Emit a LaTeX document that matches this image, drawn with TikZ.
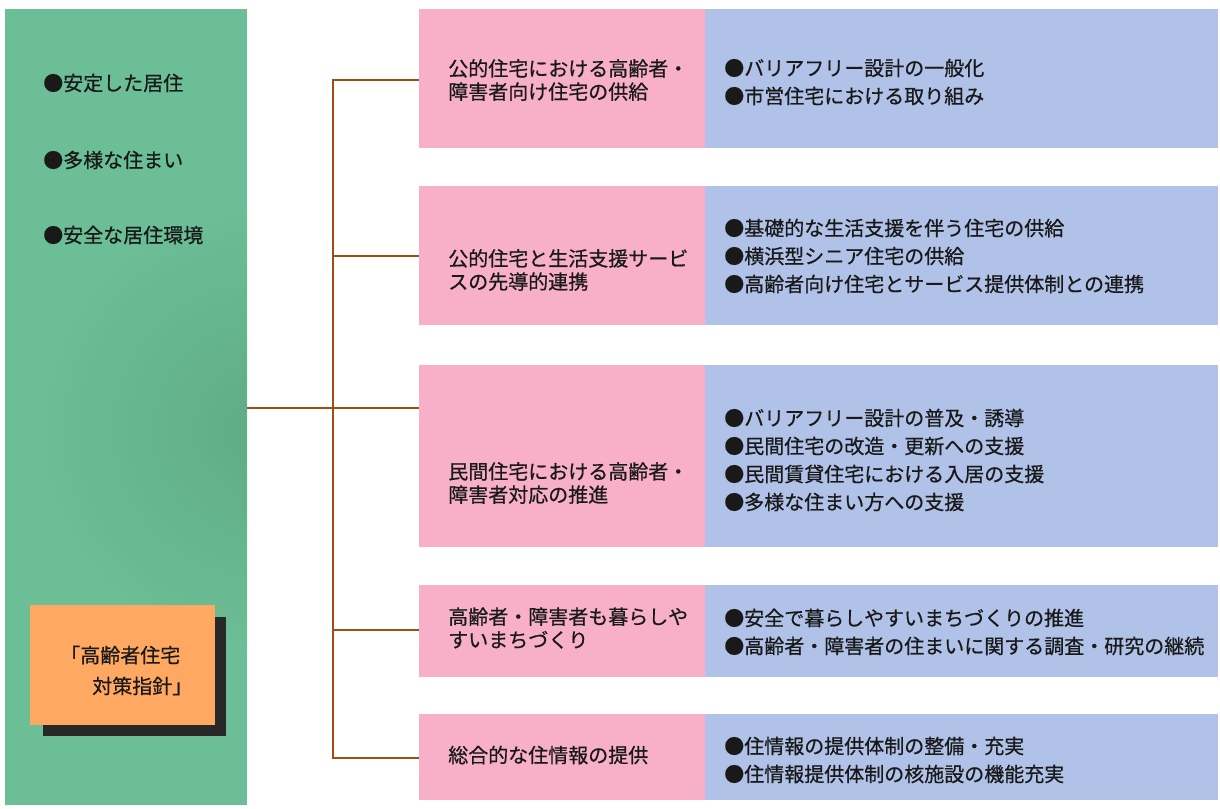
\documentclass[tikz,border=0pt]{standalone}
\usepackage{fontspec}
\setmainfont{Noto Sans CJK JP}[FakeBold=0.6, AutoFakeBold=0.6]
\usetikzlibrary{fit}
\definecolor{panelgreen}{RGB}{108,190,150}
\definecolor{paneldark}{RGB}{92,168,130}
\definecolor{boxpink}{RGB}{247,176,200}
\definecolor{boxblue}{RGB}{176,194,232}
\definecolor{boxorange}{RGB}{255,168,98}
\definecolor{shadowdark}{RGB}{40,40,40}
\definecolor{linebrown}{RGB}{165,75,20}
\definecolor{txt}{RGB}{25,25,25}
\tikzset{
  panel/.style={fill=panelgreen, inner sep=0pt, draw=none},
  pinkbox/.style={fill=boxpink, inner sep=0pt, draw=none},
  bluebox/.style={fill=boxblue, inner sep=0pt, draw=none},
  orangebox/.style={fill=boxorange, inner sep=0pt, draw=none},
  shadowbox/.style={fill=shadowdark, inner sep=0pt, draw=none},
  ptext/.style={anchor=west, align=left, inner sep=0pt, text=txt, font=\fontsize{15pt}{17.4pt}\selectfont},
  btext/.style={anchor=west, align=left, inner sep=0pt, text=txt, font=\fontsize{15pt}{21pt}\selectfont},
  ltext/.style={anchor=west, inner sep=0pt, text=txt, font=\fontsize{15pt}{18pt}\selectfont},
  conn/.style={draw=linebrown, line width=1.5pt}
}
\begin{document}
\begin{tikzpicture}[x=0.75pt, y=-0.75pt]
\useasboundingbox (0,0) rectangle (1220,808);
\fill[white] (0,0) rectangle (1220,808);
% left panel
\node[panel, fit={(5,9)(247,805)}] (green) {};
\begin{scope}
  \clip (5,9) rectangle (247,805);
  \shade[inner color=paneldark, outer color=panelgreen, opacity=0.8] (260,430) circle[radius=220];
\end{scope}
\node[ltext] (l1) at (43,83) {●安定した居住};
\node[ltext] (l2) at (43,160) {●多様な住まい};
\node[ltext] (l3) at (43,235) {●安全な居住環境};
\node[shadowbox, fit={(43,617)(226,736)}] (shadow) {};
\node[orangebox, fit={(30,605)(215,725)}] (orange) {};
\node[ltext] (o1) at (60,655) {「高齢者住宅};
\node[ltext] (o2) at (92,686) {対策指針」};
% pink boxes
\node[pinkbox, fit={(419,9)(705,148)}] (p1) {};
\node[pinkbox, fit={(419,186)(705,325)}] (p2) {};
\node[pinkbox, fit={(419,365)(705,547)}] (p3) {};
\node[pinkbox, fit={(419,585)(705,677)}] (p4) {};
\node[pinkbox, fit={(419,714)(705,800)}] (p5) {};
% blue boxes
\node[bluebox, fit={(705,9)(1218,148)}] (b1) {};
\node[bluebox, fit={(705,186)(1218,325)}] (b2) {};
\node[bluebox, fit={(705,365)(1218,547)}] (b3) {};
\node[bluebox, fit={(705,585)(1218,677)}] (b4) {};
\node[bluebox, fit={(705,714)(1218,800)}] (b5) {};
% pink texts
\node[ptext] (p1t) at (448,80) {公的住宅における高齢者・\\障害者向け住宅の供給};
\node[ptext] (p2t) at (448,270) {公的住宅と生活支援サービ\\スの先導的連携};
\node[ptext] (p3t) at (448,483) {民間住宅における高齢者・\\障害者対応の推進};
\node[ptext] (p4t) at (448,628) {高齢者・障害者も暮らしや\\すいまちづくり};
\node[ptext] (p5t) at (448,755) {総合的な住情報の提供};
% blue texts
\node[btext] (b1t) at (724,82) {●バリアフリー設計の一般化\\●市営住宅における取り組み};
\node[btext] (b2t) at (724,256) {●基礎的な生活支援を伴う住宅の供給\\●横浜型シニア住宅の供給\\●高齢者向け住宅とサービス提供体制との連携};
\node[btext] (b3t) at (724,460) {●バリアフリー設計の普及・誘導\\●民間住宅の改造・更新への支援\\●民間賃貸住宅における入居の支援\\●多様な住まい方への支援};
\node[btext] (b4t) at (724,632) {●安全で暮らしやすいまちづくりの推進\\●高齢者・障害者の住まいに関する調査・研究の継続};
\node[btext] (b5t) at (724,760) {●住情報の提供体制の整備・充実\\●住情報提供体制の核施設の機能充実};
% connectors
\coordinate (trunk) at (333,408);
\coordinate (t1) at (333,80);
\coordinate (t2) at (333,256);
\coordinate (t4) at (333,630);
\coordinate (t5) at (333,758);
\draw[conn] (green.east |- trunk) -- (p3.west |- trunk);
\draw[conn] (p1.west |- t1) -- (t1) -- (t5) -- (p5.west |- t5);
\draw[conn] (t2) -- (p2.west |- t2);
\draw[conn] (t4) -- (p4.west |- t4);
\end{tikzpicture}
\end{document}
